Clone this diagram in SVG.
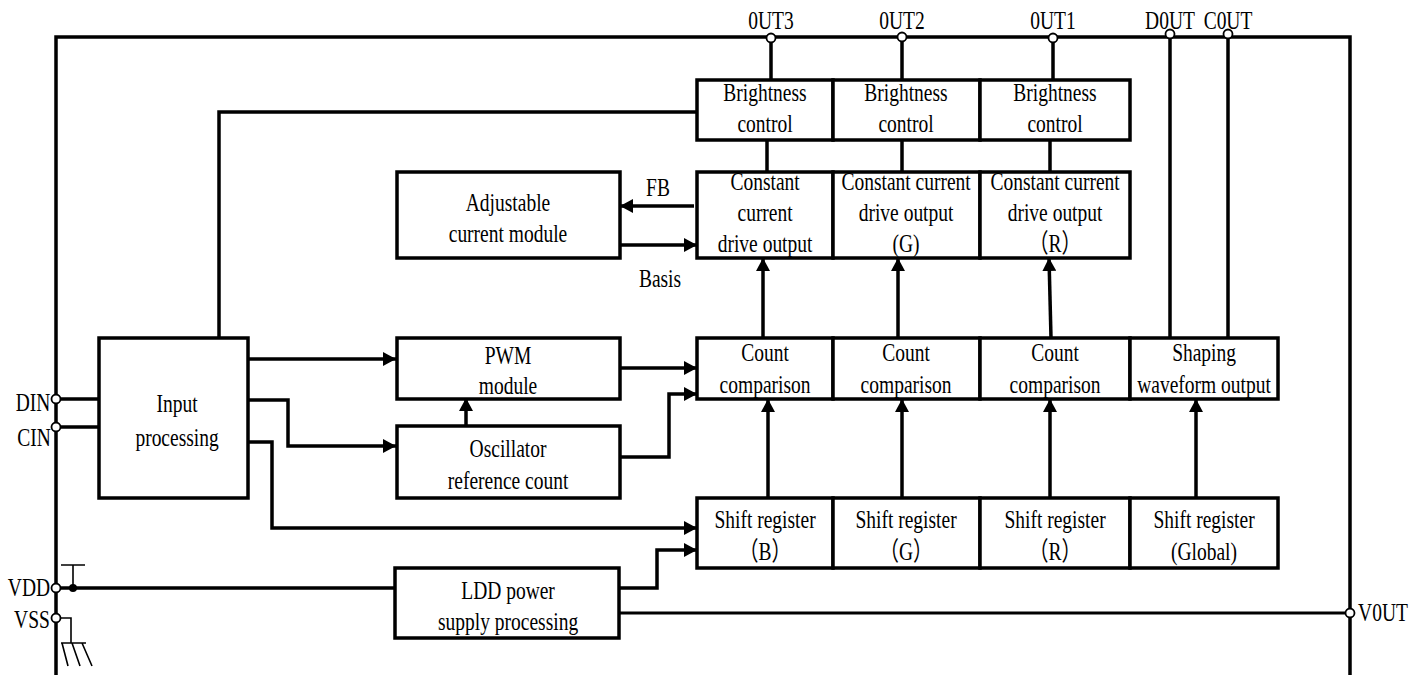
<svg xmlns="http://www.w3.org/2000/svg" width="1425" height="675" viewBox="0 0 1425 675">
<style>
  text { font-family: "Liberation Serif", "Noto Sans CJK SC", serif; font-size: 26px; fill: #000; text-anchor: middle; transform-box: fill-box; transform-origin: center; transform: scaleX(0.75); }
  .box { fill: #fff; stroke: #000; stroke-width: 3.5; }
  .w { fill: none; stroke: #000; stroke-width: 3.5; }
  .thin { fill: none; stroke: #000; stroke-width: 1.6; }
  .pin { fill: #fff; stroke: #000; stroke-width: 1.8; }
</style>
<defs>
  <marker id="ah" markerUnits="userSpaceOnUse" markerWidth="14" markerHeight="14" refX="13" refY="7" orient="auto">
    <path d="M0,0 L13,7 L0,14 z" fill="#000"/>
  </marker>
</defs>
<rect width="1425" height="675" fill="#fff"/>

<g id="frame">
  <path class="w" d="M56,675 V37 H1350 V675"/>
</g>

<g id="connectors">
  <path class="w" d="M771,37 V80 M902,37 V80 M1053,37 V80"/>
  <path class="w" d="M767,140 V172 M902,140 V172 M1050,140 V172"/>
  <path class="w" d="M1170,37 V338 M1228,37 V338"/>
  <path class="w" d="M219,338 V112 H697"/>
  <path class="w" d="M694,206 H620" marker-end="url(#ah)"/>
  <path class="w" d="M620,245 H697" marker-end="url(#ah)"/>
  <path class="w" d="M763,338 V258" marker-end="url(#ah)"/>
  <path class="w" d="M898,338 V258" marker-end="url(#ah)"/>
  <path class="w" d="M1051,338 L1049,258" marker-end="url(#ah)"/>
  <path class="w" d="M768,498 V399" marker-end="url(#ah)"/>
  <path class="w" d="M902,498 V399" marker-end="url(#ah)"/>
  <path class="w" d="M1050,498 V399" marker-end="url(#ah)"/>
  <path class="w" d="M1196,498 V399" marker-end="url(#ah)"/>
  <path class="w" d="M248,359 H396" marker-end="url(#ah)"/>
  <path class="w" d="M248,400 H288 V446 H396" marker-end="url(#ah)"/>
  <path class="w" d="M466,426 V398" marker-end="url(#ah)"/>
  <path class="w" d="M620,368 H697" marker-end="url(#ah)"/>
  <path class="w" d="M620,457 H669 V394 H697" marker-end="url(#ah)"/>
  <path class="w" d="M248,442 H272 V528 H697" marker-end="url(#ah)"/>
  <path class="w" d="M619,588 H657 V550 H697" marker-end="url(#ah)"/>
  <path class="w" d="M58,399 H99 M58,427 H99"/>
  <path class="w" d="M58,588 H395"/>
  <path class="w" style="stroke-width:3" d="M619,613 H1346"/>
  <circle cx="73" cy="588" r="4" fill="#000"/>
  <path class="thin" d="M73,588 V565 M61,565 H85"/>
  <path class="thin" d="M59,618 H71 V643 M61,643 H86 M62,643 L68,666 M72,643 L80,666 M82,643 L92,666"/>
</g>

<g id="pins">
  <circle class="pin" cx="56" cy="399" r="4.5"/>
  <circle class="pin" cx="56" cy="427" r="4.5"/>
  <circle class="pin" cx="56" cy="588" r="4.5"/>
  <circle class="pin" cx="56" cy="618" r="4.5"/>
  <circle class="pin" cx="771" cy="38" r="4.5"/>
  <circle class="pin" cx="902" cy="37" r="4.5"/>
  <circle class="pin" cx="1053" cy="38" r="4.5"/>
  <circle class="pin" cx="1170" cy="34" r="4.5"/>
  <circle class="pin" cx="1228" cy="34" r="4.5"/>
  <circle class="pin" cx="1350" cy="613" r="4.5"/>
  <text x="771" y="29">0UT3</text>
  <text x="902" y="29">0UT2</text>
  <text x="1053" y="29">0UT1</text>
  <text x="1170" y="29">D0UT</text>
  <text x="1228" y="29">C0UT</text>
  <text x="33" y="411">DIN</text>
  <text x="34" y="446">CIN</text>
  <text x="29" y="596">VDD</text>
  <text x="32" y="628">VSS</text>
  <text x="1383" y="621">V0UT</text>
</g>

<g id="brightness3">
  <rect class="box" x="697" y="80" width="136" height="60"/>
  <text x="765" y="101">Brightness</text>
  <text x="765" y="132">control</text>
</g>
<g id="brightness2">
  <rect class="box" x="833" y="80" width="147" height="60"/>
  <text x="906" y="101">Brightness</text>
  <text x="906" y="132">control</text>
</g>
<g id="brightness1">
  <rect class="box" x="980" y="80" width="150" height="60"/>
  <text x="1055" y="101">Brightness</text>
  <text x="1055" y="132">control</text>
</g>

<g id="adjustable">
  <rect class="box" x="397" y="172" width="223" height="86"/>
  <text x="508" y="211">Adjustable</text>
  <text x="508" y="242">current module</text>
</g>
<g id="labels">
  <text x="658" y="196">FB</text>
  <text x="660" y="287">Basis</text>
</g>

<g id="ccd-b">
  <rect class="box" x="697" y="172" width="136" height="86"/>
  <text x="765" y="190">Constant</text>
  <text x="765" y="221">current</text>
  <text x="765" y="252">drive output</text>
</g>
<g id="ccd-g">
  <rect class="box" x="833" y="172" width="147" height="86"/>
  <text x="906" y="190">Constant current</text>
  <text x="906" y="221">drive output</text>
  <text x="906" y="252">(G)</text>
</g>
<g id="ccd-r">
  <rect class="box" x="980" y="172" width="150" height="86"/>
  <text x="1055" y="190">Constant current</text>
  <text x="1055" y="221">drive output</text>
  <text x="1055" y="252">（R）</text>
</g>

<g id="input">
  <rect class="box" x="99" y="338" width="149" height="160"/>
  <text x="177" y="412">Input</text>
  <text x="177" y="446">processing</text>
</g>
<g id="pwm">
  <rect class="box" x="397" y="338" width="223" height="61"/>
  <text x="508" y="364">PWM</text>
  <text x="508" y="394">module</text>
</g>
<g id="oscillator">
  <rect class="box" x="397" y="426" width="223" height="72"/>
  <text x="508" y="457">Oscillator</text>
  <text x="508" y="489">reference count</text>
</g>

<g id="count-b">
  <rect class="box" x="697" y="338" width="136" height="61"/>
  <text x="765" y="361">Count</text>
  <text x="765" y="393">comparison</text>
</g>
<g id="count-g">
  <rect class="box" x="833" y="338" width="147" height="61"/>
  <text x="906" y="361">Count</text>
  <text x="906" y="393">comparison</text>
</g>
<g id="count-r">
  <rect class="box" x="980" y="338" width="150" height="61"/>
  <text x="1055" y="361">Count</text>
  <text x="1055" y="393">comparison</text>
</g>
<g id="shaping">
  <rect class="box" x="1130" y="338" width="148" height="61"/>
  <text x="1204" y="361">Shaping</text>
  <text x="1204" y="393">waveform output</text>
</g>

<g id="shift-b">
  <rect class="box" x="697" y="498" width="136" height="70"/>
  <text x="765" y="528">Shift register</text>
  <text x="765" y="560">（B）</text>
</g>
<g id="shift-g">
  <rect class="box" x="833" y="498" width="147" height="70"/>
  <text x="906" y="528">Shift register</text>
  <text x="906" y="560">（G）</text>
</g>
<g id="shift-r">
  <rect class="box" x="980" y="498" width="150" height="70"/>
  <text x="1055" y="528">Shift register</text>
  <text x="1055" y="560">（R）</text>
</g>
<g id="shift-global">
  <rect class="box" x="1130" y="498" width="148" height="70"/>
  <text x="1204" y="528">Shift register</text>
  <text x="1204" y="560">(Global)</text>
</g>

<g id="ldd">
  <rect class="box" x="395" y="568" width="224" height="70"/>
  <text x="508" y="599">LDD power</text>
  <text x="508" y="630">supply processing</text>
</g>
</svg>
